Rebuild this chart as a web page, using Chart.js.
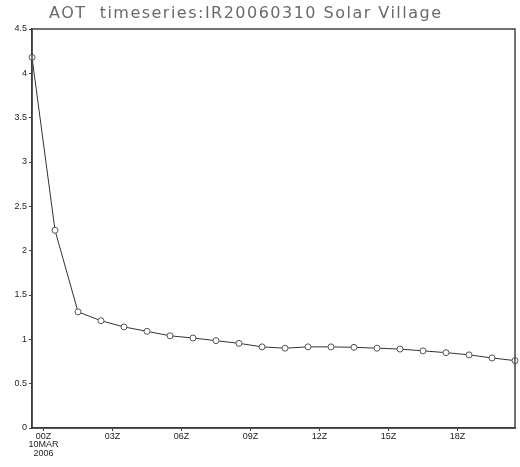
<!DOCTYPE html>
<html lang="en">
<head>
    <meta charset="UTF-8">
    <title>AOT timeseries</title>
    <script src="https://cdn.jsdelivr.net/npm/chart.js@4/dist/chart.umd.min.js"></script>
    <style>
        html, body { margin: 0; padding: 0; background: #fff; }
        #wrap { width: 520px; height: 467px; position: relative; }
    </style>
</head>
<body>
<div id="wrap"><canvas id="canvas"></canvas></div>
<script>
    const titleText = 'AOT  timeseries:IR20060310 Solar Village';

    // hours after 00Z 10MAR2006
    const hours = [-0.5, 0.5, 1.5, 2.5, 3.5, 4.5, 5.5, 6.5, 7.5, 8.5, 9.5,
                   10.5, 11.5, 12.5, 13.5, 14.5, 15.5, 16.5, 17.5, 18.5, 19.5, 20.5];
    const aot = [4.18, 2.23, 1.31, 1.21, 1.14, 1.09, 1.04, 1.015, 0.985, 0.955, 0.915,
                 0.90, 0.915, 0.915, 0.91, 0.90, 0.89, 0.87, 0.85, 0.825, 0.79, 0.76];

    const xTickHours = [0, 3, 6, 9, 12, 15, 18];
    const xTickLabels = [['00Z', '10MAR', '2006'], '03Z', '06Z', '09Z', '12Z', '15Z', '18Z'];
    const yTicks = [0, 0.5, 1, 1.5, 2, 2.5, 3, 3.5, 4, 4.5];
    const yTickLabels = ['0', '0.5', '1', '1.5', '2', '2.5', '3', '3.5', '4', '4.5'];

    const frame = {
        id: 'frame',
        afterDraw(chart) {
            const a = chart.chartArea;
            const ctx = chart.ctx;
            ctx.save();
            ctx.strokeStyle = '#444';
            ctx.lineWidth = 1.5;
            ctx.strokeRect(a.left, a.top, a.right - a.left, a.bottom - a.top);

            ctx.fillStyle = '#6a6a6a';
            ctx.font = '16px "DejaVu Sans"';
            ctx.textBaseline = 'middle';
            const plain = ctx.measureText(titleText).width;
            ctx.letterSpacing = ((392 - plain) / (titleText.length - 1)) + 'px';
            ctx.textAlign = 'left';
            ctx.fillText(titleText, 49, 14);
            ctx.restore();
        }
    };

    new Chart('canvas', {
        type: 'line',
        data: {
            datasets: [{
                data: hours.map((h, i) => ({x: h, y: aot[i]})),
                borderColor: '#333',
                borderWidth: 1,
                pointRadius: 3,
                pointBorderWidth: 1,
                pointBackgroundColor: '#fff',
                pointBorderColor: '#555',
                tension: 0,
                clip: false
            }]
        },
        options: {
            responsive: true,
            maintainAspectRatio: false,
            animation: false,
            layout: { padding: { top: 29, right: 3, left: 0, bottom: 0 } },
            plugins: { legend: { display: false }, tooltip: { enabled: false } },
            scales: {
                x: {
                    type: 'linear',
                    min: -0.5,
                    max: 20.5,
                    afterBuildTicks(scale) { scale.ticks = xTickHours.map(v => ({value: v})); },
                    afterFit(scale) { scale.height = 39; },
                    grid: { drawOnChartArea: false, drawTicks: true, tickLength: 3, color: '#444' },
                    border: { color: '#222', width: 1.5 },
                    ticks: {
                        color: '#222',
                        font: { family: 'Liberation Sans', size: 9, lineHeight: 0.95 },
                        padding: 1,
                        maxRotation: 0,
                        autoSkip: false,
                        callback: (v) => xTickLabels[xTickHours.indexOf(v)]
                    }
                },
                y: {
                    min: 0,
                    max: 4.5,
                    afterBuildTicks(scale) { scale.ticks = yTicks.map(v => ({value: v})); },
                    afterFit(scale) { scale.width = 32; },
                    grid: { drawOnChartArea: false, drawTicks: true, tickLength: 3, color: '#444' },
                    border: { color: '#222', width: 1.5 },
                    ticks: {
                        color: '#222',
                        font: { family: 'Liberation Sans', size: 9 },
                        padding: 2,
                        callback: (v) => yTickLabels[yTicks.indexOf(v)]
                    }
                }
            }
        },
        plugins: [frame]
    });
</script>
</body>
</html>
